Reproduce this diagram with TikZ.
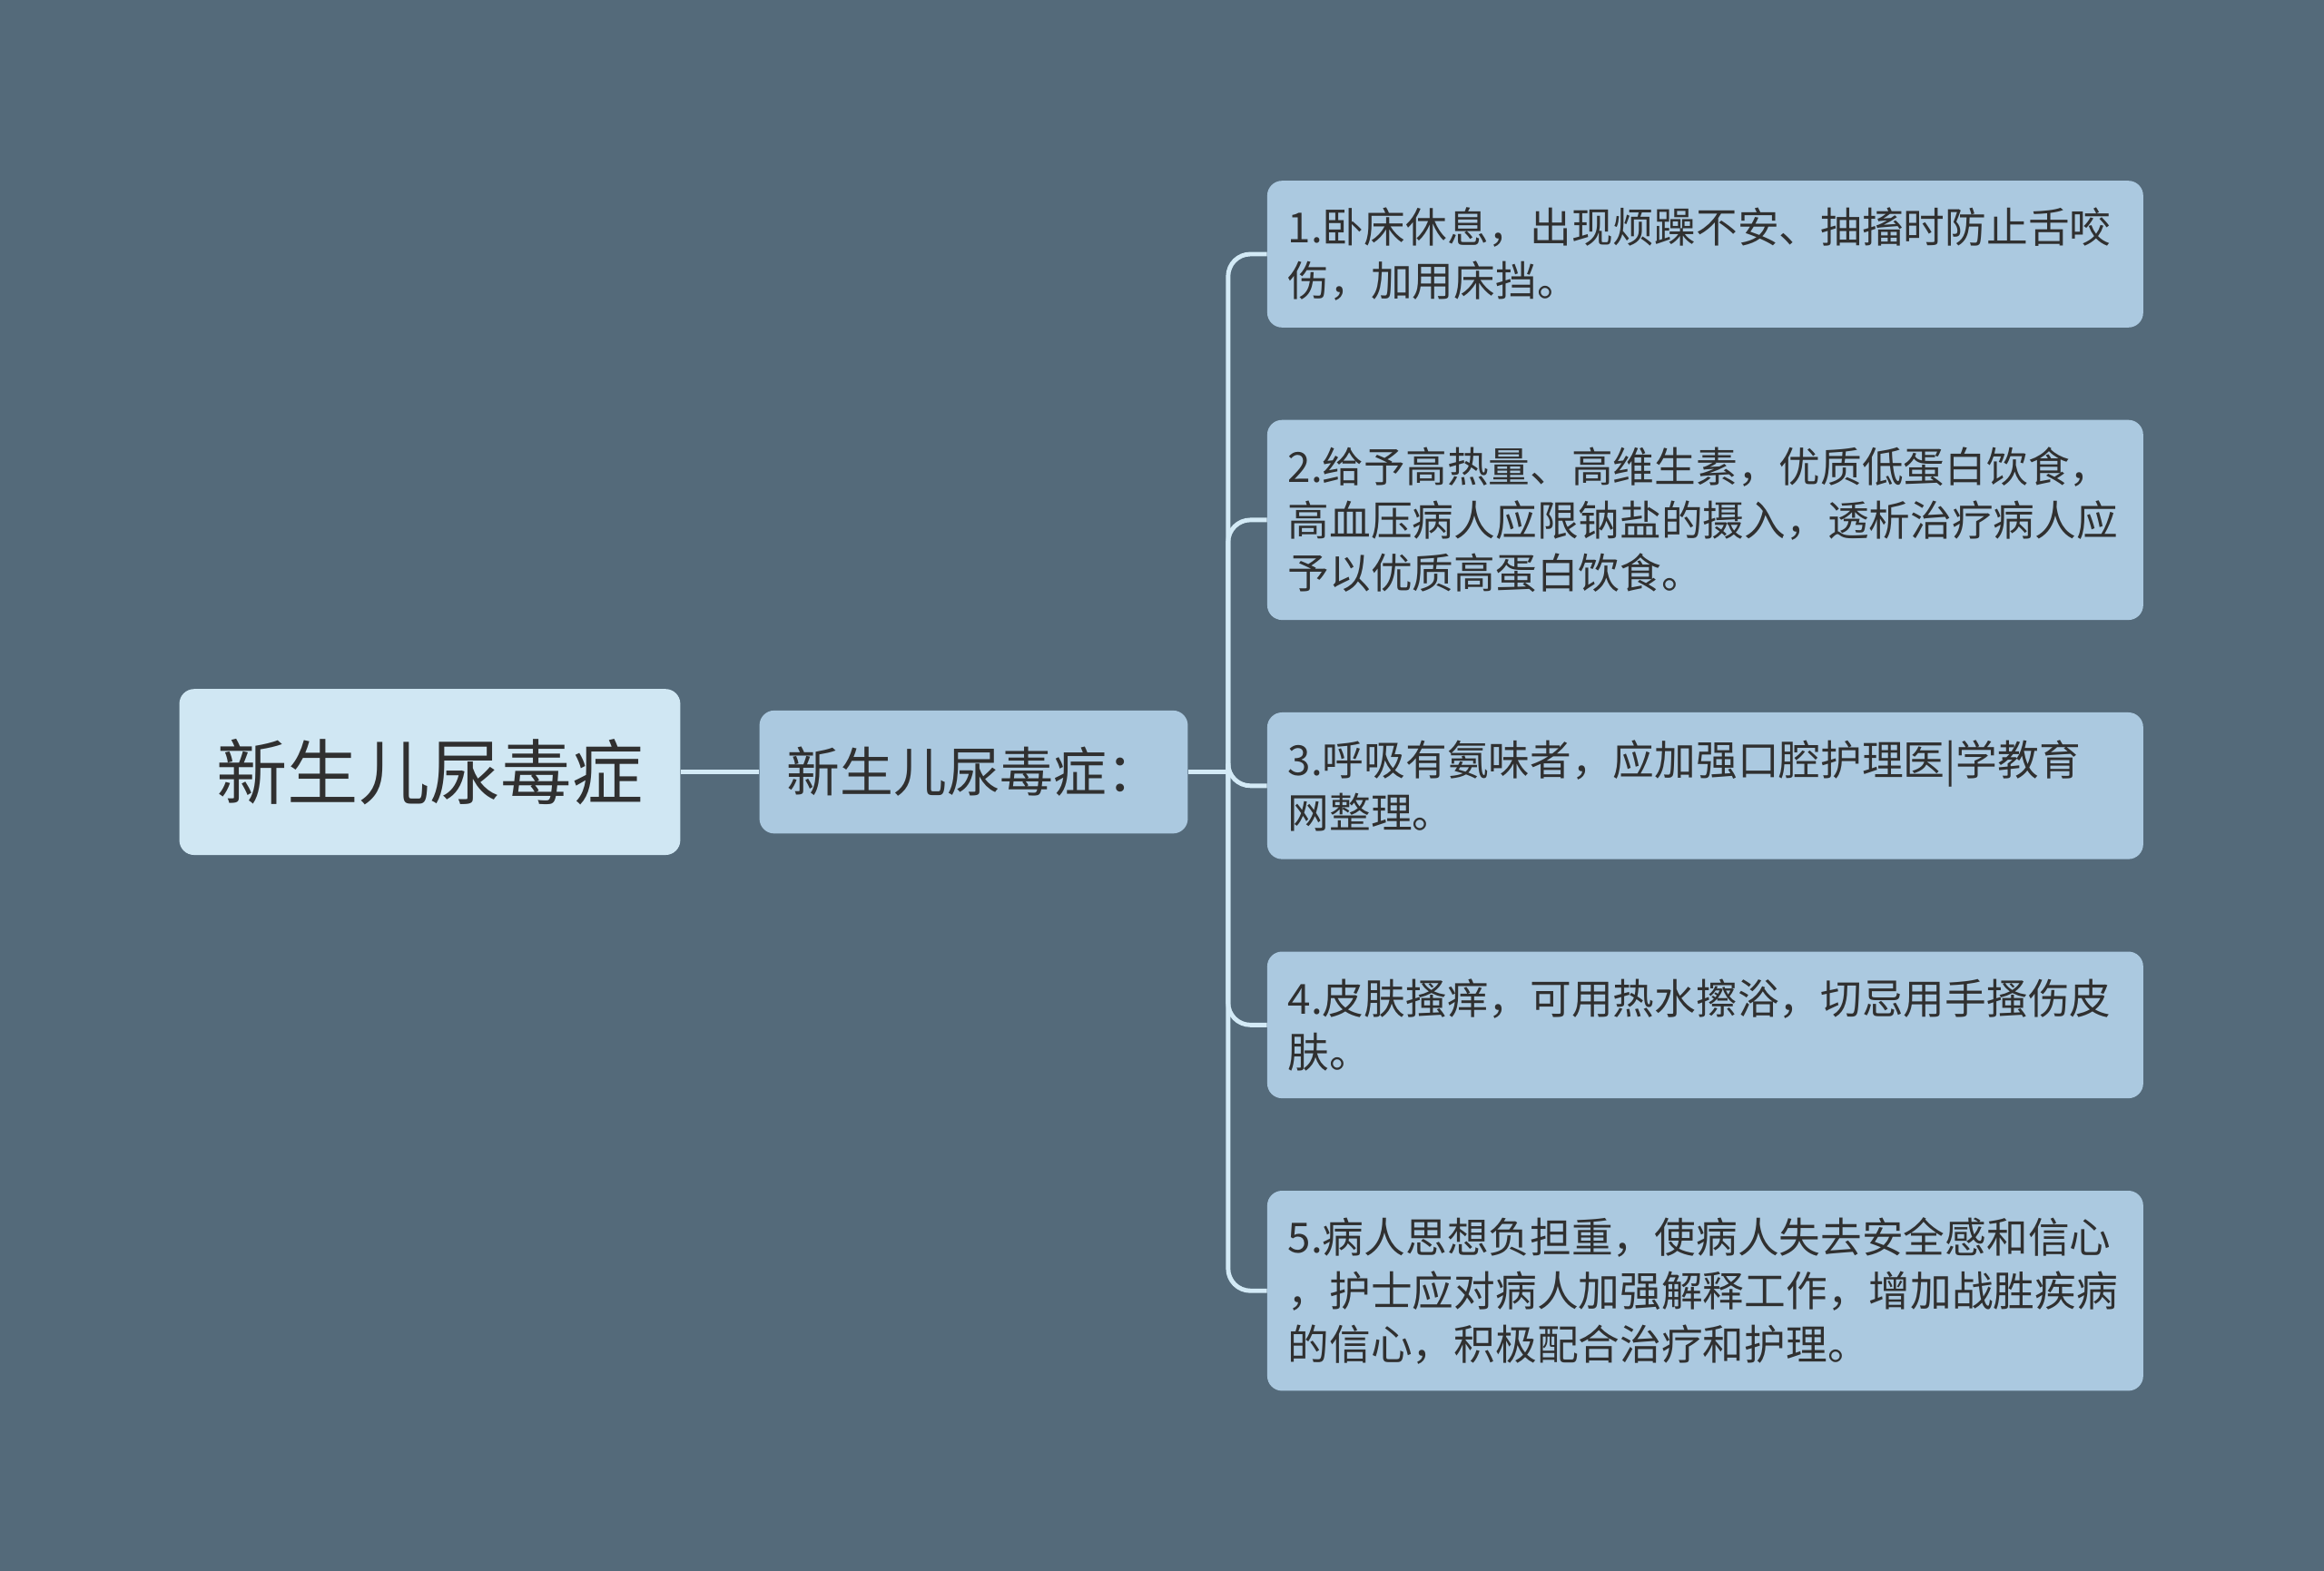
\documentclass[tikz,border=0pt]{standalone}
\usepackage{fontspec}
\setmainfont{Noto Sans CJK SC}
\usetikzlibrary{positioning}
\definecolor{bgslate}{HTML}{546A7A}
\definecolor{rootfill}{HTML}{D0E7F3}
\definecolor{itemfill}{HTML}{ABC9E0}
\definecolor{inktext}{HTML}{303030}
\definecolor{linkcol}{HTML}{D3EAF6}

\begin{document}
\begin{tikzpicture}[x=1pt, y=1pt,
    rootbox/.style={rectangle, rounded corners=10pt, fill=rootfill, text=inktext, inner sep=0pt,
      minimum width=338pt, minimum height=112pt, font=\fontsize{48}{58}\selectfont},
    midbox/.style={rectangle, rounded corners=10pt, fill=itemfill, text=inktext, inner sep=0pt,
      minimum width=289pt, minimum height=83pt, font=\fontsize{36}{44}\selectfont},
    itembox/.style={rectangle, rounded corners=10pt, fill=itemfill, text=inktext, inner xsep=14pt, inner ysep=0pt,
      text width=563pt, align=left, font=\fontsize{28}{36}\selectfont},
    link/.style={draw=linkcol, line width=3pt, rounded corners=15pt}]
  \fill[bgslate] (0,0) rectangle (1568,-1060);
  \useasboundingbox (0,0) rectangle (1568,-1060);

  \node[rootbox] (root) at (290,-521) {新生儿尿毒症};
  \node[midbox, right=53pt of root] (mid) {新生儿尿毒症：};

  \node[itembox, minimum height=99pt] (item1) at (1150.5,-171.5) {1.卧床休息，出现烦躁不安、抽搐时防止舌咬\\伤，加用床挡。};
  \node[itembox, minimum height=135pt, below=62pt of item1] (item2) {2.给予高热量、高维生素，优质低蛋白饮食，\\高血压病人应限钠盐的摄入，透析治疗病人应\\予以优质高蛋白饮食。};
  \node[itembox, minimum height=99pt, below=62pt of item2] (item3) {3.呼吸有氨味者，应加强口腔护理医|学教育\\网整理。};
  \node[itembox, minimum height=99pt, below=62pt of item3] (item4) {4.皮肤搔痒，可用热水擦浴，切忌用手搔伤皮\\肤。};
  \node[itembox, minimum height=135pt, below=62pt of item4] (item5) {5.病人思想负担重，使病人失去安全感和信心\\，护士应对病人加强解释工作，增加战胜疾病\\的信心，积极配合治疗和护理。};

  \draw[link] (root.east) -- (mid.west);
  \coordinate[right=27pt of mid.east] (fork);
  \draw[link] (mid.east) -- (fork);
  \foreach \item in {item1,item2,item3,item4,item5}
    \draw[link] (fork) |- (\item.west);
\end{tikzpicture}
\end{document}
